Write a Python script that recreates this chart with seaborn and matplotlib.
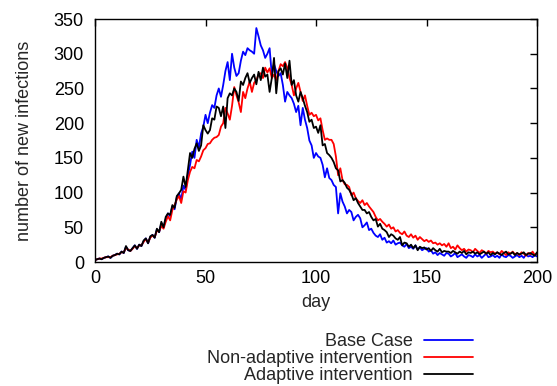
import matplotlib
matplotlib.use("Agg")
import matplotlib.pyplot as plt
import seaborn as sns
import pandas as pd

# Dados (novas infecções por dia)
dias = list(range(0, 201))

base_case = [
    3, 4, 5, 4, 6, 7, 8, 6, 9, 10,
    12, 11, 15, 13, 22, 17, 16, 20, 24, 19,
    25, 23, 30, 34, 27, 36, 39, 35, 47, 43,
    55, 50, 62, 70, 66, 80, 76, 93, 99, 90,
    110, 104, 125, 140, 159, 150, 176, 165, 185, 195,
    212, 200, 215, 226, 222, 240, 250, 238, 255, 275,
    288, 262, 300, 280, 268, 272, 290, 303, 298, 308,
    305, 303, 300, 337, 325, 312, 305, 294, 300, 308,
    269, 285, 275, 268, 272, 255, 231, 245, 240, 236,
    228, 216, 225, 197, 222, 205, 193, 175, 168, 150,
    157, 152, 150, 140, 122, 135, 121, 118, 111, 108,
    70, 99, 87, 80, 70, 75, 72, 60, 65, 68,
    63, 50, 53, 57, 46, 48, 42, 38, 36, 40,
    32, 35, 28, 30, 27, 31, 25, 27, 28, 24,
    22, 26, 20, 22, 19, 24, 18, 21, 17, 19,
    20, 15, 17, 12, 14, 10, 13, 11, 9, 13,
    12, 8, 10, 13, 7, 9, 11, 8, 6, 10,
    9, 7, 11, 8, 10, 6, 9, 12, 7, 8,
    10, 7, 9, 6, 11, 8, 7, 10, 9, 6,
    8, 10, 7, 9, 6, 11, 8, 9, 7, 10,
    8,
]

nao_adaptativa = [
    3, 4, 5, 5, 6, 7, 7, 7, 9, 10,
    11, 12, 14, 14, 20, 18, 16, 19, 23, 20,
    24, 24, 29, 33, 28, 35, 38, 36, 45, 44,
    52, 48, 58, 66, 60, 75, 82, 90, 95, 85,
    102, 100, 118, 130, 137, 135, 147, 145, 152, 161,
    164, 170, 171, 176, 179, 180, 183, 195, 200, 222,
    214, 205, 225, 252, 240, 230, 216, 245, 236, 250,
    260, 245, 258, 262, 270, 272, 265, 280, 273, 279,
    265, 270, 262, 275, 285, 282, 288, 280, 265, 255,
    240, 250, 258, 245, 232, 240, 225, 212, 215, 210,
    212, 204, 207, 190, 176, 178, 176, 176, 170, 152,
    125, 135, 118, 112, 111, 108, 96, 100, 92, 88,
    85, 89, 82, 85, 80, 76, 72, 65, 60, 62,
    58, 55, 51, 54, 48, 50, 44, 46, 42, 40,
    44, 38, 36, 40, 35, 38, 32, 36, 33, 30,
    32, 29, 31, 27, 28, 25, 27, 24, 26, 22,
    27, 20, 22, 18, 24, 20, 17, 19, 15, 18,
    17, 14, 19, 16, 13, 17, 15, 12, 16, 14,
    15, 12, 14, 11, 16, 13, 10, 14, 12, 15,
    11, 13, 10, 14, 12, 9, 13, 11, 15, 10,
    12,
]

adaptativa = [
    3, 4, 5, 4, 6, 7, 8, 6, 9, 10,
    12, 11, 15, 13, 23, 17, 16, 20, 24, 19,
    25, 23, 31, 34, 27, 37, 39, 35, 48, 43,
    58, 50, 65, 70, 68, 82, 78, 95, 99, 104,
    123, 108, 132, 157, 150, 163, 171, 160, 168, 197,
    190, 185, 190, 207, 205, 224, 222, 210, 224, 193,
    236, 243, 240, 250, 245, 232, 260, 255, 265, 272,
    258, 265, 270, 256, 274, 262, 280, 267, 270, 245,
    265, 294, 243, 275, 279, 270, 286, 265, 290, 255,
    262, 240, 231, 245, 236, 225, 216, 202, 205, 193,
    195, 186, 197, 168, 170, 157, 154, 150, 144, 135,
    132, 116, 118, 114, 107, 104, 98, 89, 92, 85,
    80, 75, 75, 70, 72, 65, 60, 62, 51, 55,
    48, 46, 43, 36, 40, 38, 34, 32, 36, 24,
    28, 27, 22, 25, 20, 24, 17, 22, 20, 21,
    18, 20, 16, 20, 17, 15, 19, 14, 16, 15,
    15, 13, 16, 14, 12, 15, 13, 16, 11, 14,
    13, 15, 12, 14, 11, 13, 15, 12, 14, 10,
    13, 11, 14, 12, 10, 13, 15, 11, 12, 14,
    10, 13, 11, 12, 14, 10, 12, 13, 11, 9,
    14,
]

series = ["Base Case", "Non-adaptive intervention", "Adaptive intervention"]
cores = ["#0000ff", "#ff0000", "#000000"]

df = pd.DataFrame({
    "day": dias * 3,
    "infections": base_case + nao_adaptativa + adaptativa,
    "series": [series[0]] * len(dias) + [series[1]] * len(dias) + [series[2]] * len(dias),
})

sns.set_style("white")
plt.rcParams["font.family"] = ["Liberation Sans", "DejaVu Sans"]

fig = plt.figure(figsize=(5.57, 3.86), dpi=100)
ax = fig.add_axes([0.1706, 0.3212, 0.7935, 0.6295])

sns.lineplot(data=df, x="day", y="infections", hue="series", hue_order=series,
             palette=cores, linewidth=1.3, legend=False, ax=ax)

ax.set_xlim(0, 200)
ax.set_ylim(0, 350)
ax.set_xticks([0, 50, 100, 150, 200])
ax.set_yticks(range(0, 351, 50))
ax.set_xlabel("day", fontsize=13, labelpad=5)
ax.set_ylabel("number of new infections", fontsize=13, labelpad=15)
ax.tick_params(direction="in", top=True, right=True, length=5, width=1,
               labelsize=13, color="black", labelcolor="black")
ax.tick_params(axis="x", pad=6)
ax.tick_params(axis="y", pad=8)
for s in ax.spines.values():
    s.set_color("black")
    s.set_linewidth(1)

linhas = ax.get_lines()[:3]
fig.legend(linhas, series, loc="upper right", bbox_to_anchor=(0.849, 0.137),
           frameon=False, markerfirst=False, fontsize=13, handlelength=2.7,
           handletextpad=0.65, labelspacing=0.0, borderpad=0, borderaxespad=0)

plt.savefig("out.png", dpi=100)
plt.close()
